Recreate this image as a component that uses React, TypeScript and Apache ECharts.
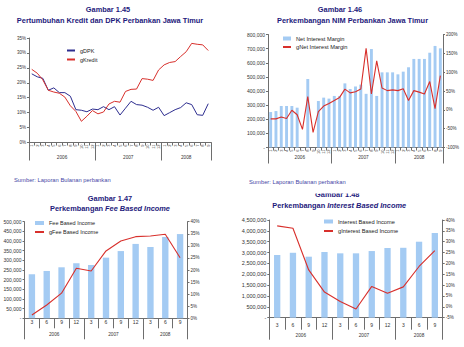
import React, { useEffect, useRef } from 'react';
import * as echarts from 'echarts';

// ---------- data ----------
const monthLabels = ['1','2','3','4','5','6','7','8','9','10','11','12','1','2','3','4','5','6','7','8','9','10','11','12','1','2','3','4','5','6','7','8','9'];
const quarterLabels = ['3','6','9','12','3','6','9','12','3','6','9'];
const years = ['2006','2007','2008'];
const monthsPerYear = [12, 12, 9];
const quartersPerYear = [4, 4, 3];

const gDPK = [23.0, 22.0, 21.5, 17.5, 18.3, 16.7, 16.7, 15.5, 11.0, 10.8, 10.3, 11.2, 11.0, 12.0, 11.0, 12.0, 9.2, 11.5, 13.8, 12.7, 12.5, 11.8, 10.8, 11.8, 9.0, 10.0, 11.0, 11.7, 13.3, 12.7, 9.3, 9.1, 13.0];
const gKredit = [24.5, 23.2, 21.0, 17.5, 16.9, 16.5, 15.2, 12.3, 10.4, 7.1, 8.8, 10.7, 9.6, 10.2, 12.9, 13.8, 13.5, 17.1, 17.8, 17.9, 21.4, 21.2, 20.8, 24.3, 26.0, 26.8, 27.1, 28.8, 30.4, 33.2, 32.9, 32.7, 30.8];

const nim = [251000, 258000, 294000, 294000, 294000, 282000, null, 485000, null, 329000, 353000, 346000, 365000, 365000, 454000, 414000, 432000, 445000, 380000, 697000, 365000, 532000, 532000, 532000, 518000, 537000, 568000, 627000, 627000, 627000, 671000, 719000, 702000];
const gNim = [-24, -24, -19, -23, -1, -13, -52, 35, -60, -5, 10, 17, 25, 33, 55, 45, 48, 55, 163, 42, 130, 58, 51, 53, 51, 56, 25, 51, 47, 42, 75, 3, 91];

const feeIncome = [228000, 245000, 264000, 285000, 276000, 314000, 348000, 385000, 369000, 421000, 436000];
const gFee = [1.4, 5.5, 10.4, 20.7, 19.6, 27.9, 32.0, 33.8, 34.1, 34.8, 25.1];

const interestIncome = [2887000, 2990000, 2810000, 3025000, 2965000, 2965000, 3070000, 3210000, 3220000, 3500000, 3900000];
const gInterest = [37.3, 36.2, 17.0, 6.8, 2.5, -1.0, 9.4, 6.3, 9.2, 18.6, 25.9];

// ---------- style ----------
const FF = '"Liberation Sans", Arial, sans-serif';
const NAVY = '#1e1a7c';
const AX = '#6e6e6e';
const LBL = '#333333';
const BAR = '#a4cbf3';
const RED = '#d8302c';
const BLUE = '#2d2d8f';
const SRC = '#4646a6';

const fmtNum = (v: number) => (v === 0 ? '-' : Math.round(v).toLocaleString('en-US'));
const fmtPct = (v: number) => `${v}%`;

function starts(groups: number[]) {
  const s: number[] = [];
  let acc = 0;
  groups.forEach((g) => { s.push(acc); acc += g; });
  return s;
}
function mids(groups: number[]) {
  const m: number[] = [];
  let acc = 0;
  groups.forEach((g) => { m.push(acc + g / 2); acc += g; });
  return m;
}

function monthAxis(grid: number, data: string[], o: any) {
  return {
    type: 'category', gridIndex: grid, position: 'bottom', data, boundaryGap: true,
    axisLine: { show: true, onZero: false, lineStyle: { color: AX, width: 1 } },
    axisTick: { show: true, interval: 0, length: o.tick, lineStyle: { color: AX } },
    axisLabel: { interval: 0, fontSize: o.fs, rotate: o.rot || 0, margin: o.margin, color: LBL, fontFamily: FF },
    splitLine: { show: false },
  };
}
function sepAxis(grid: number, data: string[], groups: number[], len: number) {
  const st = starts(groups);
  return {
    type: 'category', gridIndex: grid, position: 'bottom', data, boundaryGap: true,
    axisLine: { show: false, onZero: false },
    axisTick: { show: true, interval: (i: number) => st.includes(i), length: len, lineStyle: { color: AX } },
    axisLabel: { show: false },
    splitLine: { show: false },
  };
}
function yearAxis(grid: number, groups: number[], margin: number, fs: number) {
  const total = groups.reduce((a, b) => a + b, 0);
  const md = mids(groups);
  return {
    type: 'value', gridIndex: grid, position: 'bottom', min: 0, max: total, interval: 0.5,
    axisLine: { show: false, onZero: false }, axisTick: { show: false }, splitLine: { show: false },
    axisLabel: {
      margin, fontSize: fs, color: LBL, fontFamily: FF, showMinLabel: true, showMaxLabel: true,
      formatter: (v: number) => {
        const k = md.findIndex((m) => Math.abs(m - v) < 1e-6);
        return k >= 0 ? years[k] : '';
      },
    },
  };
}
function yAxis(grid: number, pos: string, min: number, max: number, interval: number, fmt: any, fs: number) {
  return {
    type: 'value', gridIndex: grid, position: pos, min, max, interval,
    axisLine: { show: true, lineStyle: { color: AX, width: 1 } },
    axisTick: { show: true, length: 2, lineStyle: { color: AX } },
    splitLine: { show: false },
    axisLabel: { formatter: fmt, fontSize: fs, color: LBL, fontFamily: FF, margin: 3 },
  };
}

function titleText(x: number, y: number, text: string) {
  return {
    type: 'text', x, y, z: 10,
    style: { text, fill: NAVY, fontSize: 7.4, fontWeight: 'bold', fontFamily: FF, align: 'center', verticalAlign: 'middle', textAlign: 'center', textVerticalAlign: 'middle' },
  };
}
function titleRich(x: number, y: number, plain: string, ital: string) {
  const base = { fill: NAVY, fontSize: 7.4, fontWeight: 'bold', fontFamily: FF };
  return {
    type: 'text', x, y, z: 10,
    style: {
      text: `{n|${plain}}{i|${ital}}`,
      rich: { n: { ...base }, i: { ...base, fontStyle: 'italic' } },
      align: 'center', verticalAlign: 'middle', textAlign: 'center', textVerticalAlign: 'middle',
    },
  };
}
function srcText(x: number, y: number) {
  return {
    type: 'text', x, y, z: 10,
    style: { text: 'Sumber: Laporan Bulanan perbankan', fill: SRC, fontSize: 5.8, fontFamily: FF, verticalAlign: 'middle', textVerticalAlign: 'middle' },
  };
}
const lineItem = (name: string) => ({ name, itemStyle: { opacity: 0 } });
function legend(left: number, top: number, items: any[], fs: number, gap: number, w: number) {
  return {
    orient: 'vertical', left, top, padding: 0, itemGap: gap, itemWidth: w, itemHeight: 4,
    textStyle: { fontSize: fs, color: '#222', fontFamily: FF },
    data: items,
  };
}

export default function App() {
  const ref = useRef<HTMLDivElement>(null);
  useEffect(() => {
    document.body.style.margin = '0';
    const chart = echarts.init(ref.current!, null, { renderer: 'svg' });
    const option: any = {
      animation: false,
      backgroundColor: '#ffffff',
      grid: [
        { left: 29, top: 38, width: 182, height: 104.5 },
        { left: 268, top: 34.5, width: 175, height: 113 },
        { left: 24.5, top: 221.7, width: 163, height: 96.6 },
        { left: 269.3, top: 220, width: 173.4, height: 97.7 },
      ],
      xAxis: [
        monthAxis(0, monthLabels, { tick: 3, fs: 4, rot: 90, margin: 2 }),
        sepAxis(0, monthLabels, monthsPerYear, 18),
        yearAxis(0, monthsPerYear, 12, 4.7),
        monthAxis(1, monthLabels, { tick: 3, fs: 4, rot: 90, margin: 2 }),
        sepAxis(1, monthLabels, monthsPerYear, 16),
        yearAxis(1, monthsPerYear, 7, 4.7),
        monthAxis(2, quarterLabels, { tick: 10, fs: 5, margin: 1.5 }),
        sepAxis(2, quarterLabels, quartersPerYear, 21),
        yearAxis(2, quartersPerYear, 13.5, 4.7),
        monthAxis(3, quarterLabels, { tick: 12, fs: 5, margin: 5 }),
        sepAxis(3, quarterLabels, quartersPerYear, 22),
        yearAxis(3, quartersPerYear, 15.5, 4.7),
      ],
      yAxis: [
        yAxis(0, 'left', 0, 35, 5, fmtPct, 4.5),
        yAxis(1, 'left', 0, 800000, 100000, fmtNum, 5),
        yAxis(1, 'right', -100, 200, 50, fmtPct, 4.5),
        yAxis(2, 'left', 0, 500000, 50000, fmtNum, 5),
        yAxis(2, 'right', 0, 40, 5, fmtPct, 4.5),
        yAxis(3, 'left', 0, 4500000, 500000, fmtNum, 5.5),
        yAxis(3, 'right', -5, 40, 5, fmtPct, 4.5),
      ],
      legend: [
        legend(66, 47.5, [lineItem('gDPK'), lineItem('gKredit')], 5.5, 3, 8),
        legend(282, 35.5, [{ name: 'Net Interest Margin', icon: 'rect' }, lineItem('gNet Interest Margin')], 5.7, 2.5, 8),
        legend(34, 220, [{ name: 'Fee Based Income', icon: 'rect' }, lineItem('gFee Based Income')], 5.5, 3, 9),
        legend(323, 218.5, [{ name: 'Interest Based Income', icon: 'rect' }, lineItem('gInterest Based Income')], 5.7, 3.5, 9),
      ],
      series: [
        { type: 'line', name: 'gDPK', xAxisIndex: 0, yAxisIndex: 0, data: gDPK, symbol: 'none', lineStyle: { color: BLUE, width: 1 }, itemStyle: { color: BLUE } },
        { type: 'line', name: 'gKredit', xAxisIndex: 0, yAxisIndex: 0, data: gKredit, symbol: 'none', lineStyle: { color: RED, width: 1 }, itemStyle: { color: RED } },
        { type: 'bar', name: 'Net Interest Margin', xAxisIndex: 3, yAxisIndex: 1, data: nim, barWidth: '55%', itemStyle: { color: BAR } },
        { type: 'line', name: 'gNet Interest Margin', xAxisIndex: 3, yAxisIndex: 2, data: gNim, symbol: 'none', lineStyle: { color: RED, width: 1.1 }, itemStyle: { color: RED } },
        { type: 'bar', name: 'Fee Based Income', xAxisIndex: 6, yAxisIndex: 3, data: feeIncome, barWidth: '43%', itemStyle: { color: BAR } },
        { type: 'line', name: 'gFee Based Income', xAxisIndex: 6, yAxisIndex: 4, data: gFee, symbol: 'none', lineStyle: { color: RED, width: 1.1 }, itemStyle: { color: RED } },
        { type: 'bar', name: 'Interest Based Income', xAxisIndex: 9, yAxisIndex: 5, data: interestIncome, barWidth: '40%', itemStyle: { color: BAR } },
        { type: 'line', name: 'gInterest Based Income', xAxisIndex: 9, yAxisIndex: 6, data: gInterest, symbol: 'none', lineStyle: { color: RED, width: 1.1 }, itemStyle: { color: RED } },
      ],
      graphic: [
        titleText(108, 9, 'Gambar 1.45'),
        titleText(110, 20.7, 'Pertumbuhan Kredit dan DPK Perbankan Jawa Timur'),
        titleText(340, 9, 'Gambar 1.46'),
        titleText(352.5, 20.7, 'Perkembangan NIM Perbankan Jawa Timur'),
        titleText(110, 198.3, 'Gambar 1.47'),
        titleRich(110, 208.3, 'Perkembangan ', 'Fee Based Income'),
        titleText(337.3, 194.5, 'Gambar 1.48'),
        { type: 'rect', z: 11, shape: { x: 300, y: 186, width: 80, height: 7.6 }, style: { fill: '#ffffff' } },
        titleRich(339.2, 205, 'Perkembangan ', 'Interest Based Income'),
        srcText(14, 180),
        srcText(249, 181.5),
      ],
    };
    chart.setOption(option);
    return () => chart.dispose();
  }, []);
  return <div ref={ref} style={{ width: 464, height: 347 }} />;
}
